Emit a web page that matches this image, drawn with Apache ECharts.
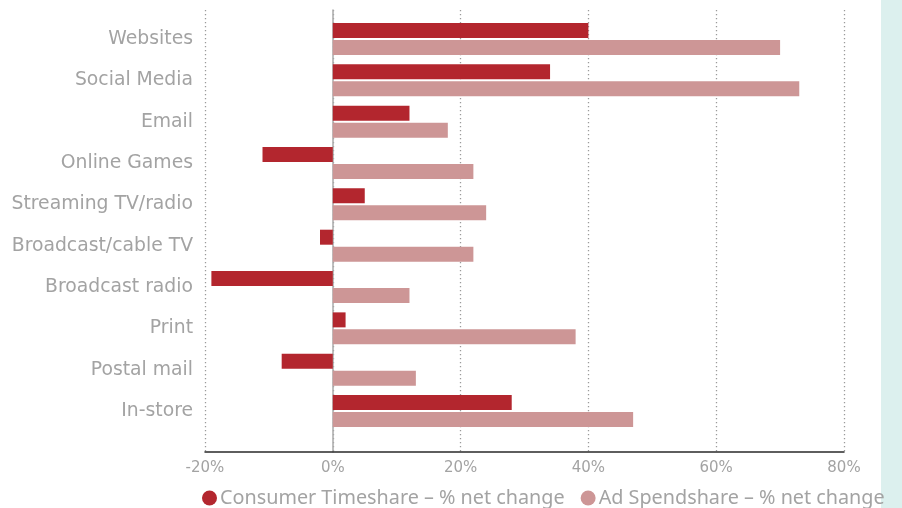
<!DOCTYPE html>
<html>
<head>
<meta charset="utf-8">
<script src="https://cdn.jsdelivr.net/npm/echarts@6/dist/echarts.min.js"></script>
<style>
  html, body { margin: 0; padding: 0; background: #fff; }
  #chart { width: 902px; height: 508px; }
</style>
</head>
<body>
<div id="chart"></div>
<script>
  // categories top to bottom
  var categories = ['Websites', 'Social Media', 'Email', 'Online Games', 'Streaming TV/radio',
    'Broadcast/cable TV', 'Broadcast radio', 'Print', 'Postal mail', 'In-store'];
  // % net change
  var consumerTimeshare = [40, 34, 12, -11, 5, -2, -19, 2, -8, 28];
  var adSpendshare = [70, 73, 18, 22, 24, 22, 12, 38, 13, 47];
  var xTicks = [-20, 0, 20, 40, 60, 80];

  var red = '#b3262e';
  var pink = '#cd9696';
  var textGray = '#a3a3a3';
  var font = '"DejaVu Sans", sans-serif';

  var chart = echarts.init(document.getElementById('chart'));
  chart.setOption({
    backgroundColor: '#fff',
    animation: false,
    graphic: [{
      type: 'rect',
      shape: { x: 881, y: 0, width: 21, height: 508 },
      style: { fill: '#dcf0ee' },
      z: -10
    }],
    legend: {
      left: 202,
      top: 488,
      padding: 0,
      icon: 'circle',
      itemWidth: 15,
      itemHeight: 15,
      itemGap: 16,
      textStyle: { color: textGray, fontSize: 19.8, fontFamily: '"Noto Sans", sans-serif', padding: [0, 0, 0, -2] },
      data: ['Consumer Timeshare – % net change', 'Ad Spendshare – % net change']
    },
    grid: [
      // bars
      { left: 205, right: 58, top: 18.3, bottom: 76.3 },
      // frame: split lines, zero line, axis labels
      { left: 205, right: 58, top: 10, bottom: 56 }
    ],
    xAxis: [{
      gridIndex: 0,
      type: 'value',
      min: xTicks[0],
      max: xTicks[xTicks.length - 1],
      interval: 20,
      show: false
    }, {
      gridIndex: 1,
      type: 'value',
      min: xTicks[0],
      max: xTicks[xTicks.length - 1],
      interval: 20,
      axisLine: { show: true, onZero: false, lineStyle: { color: '#2a2a2a', width: 1.5 } },
      axisTick: { show: false },
      axisLabel: {
        color: textGray, fontSize: 15, fontFamily: font, margin: 9,
        formatter: function (v) { return v + '%'; }
      },
      splitLine: { show: true, lineStyle: { color: '#9a9a9a', width: 1.3, type: [1.3, 2.7] } }
    }],
    yAxis: [{
      gridIndex: 0,
      type: 'category',
      inverse: true,
      data: categories,
      axisLine: { show: false },
      axisTick: { show: false },
      axisLabel: { color: textGray, fontSize: 18.8, fontFamily: font, margin: 12 }
    }, {
      gridIndex: 1,
      type: 'value',
      min: 0,
      max: 1,
      axisLine: { show: true, onZero: true, lineStyle: { color: '#aaaaaa', width: 1.5 } },
      axisTick: { show: false },
      axisLabel: { show: false },
      splitLine: { show: false }
    }],
    series: [{
      name: 'Consumer Timeshare – % net change',
      type: 'bar',
      xAxisIndex: 0,
      yAxisIndex: 0,
      barWidth: 15,
      barGap: '13%',
      itemStyle: { color: red },
      data: consumerTimeshare,
      z: 3
    }, {
      name: 'Ad Spendshare – % net change',
      type: 'bar',
      xAxisIndex: 0,
      yAxisIndex: 0,
      barWidth: 15,
      barGap: '13%',
      itemStyle: { color: pink },
      data: adSpendshare,
      z: 3
    }]
  });
</script>
</body>
</html>
